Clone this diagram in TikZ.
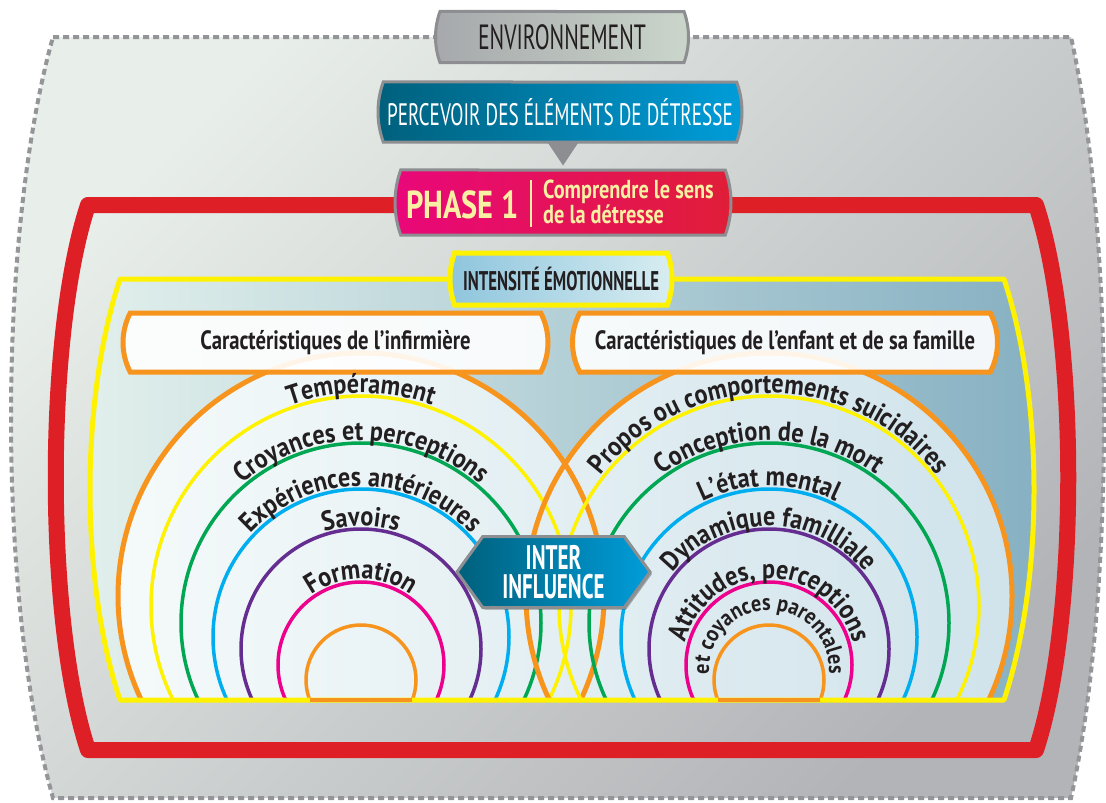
\documentclass[tikz,border=0pt]{standalone}
\usepackage{fontspec}
\usepackage{tikz}
\usetikzlibrary{
    shapes.misc,
    shapes.symbols,
    decorations.text,
    shadows,
    calc,
    positioning
}
\setmainfont{PT Sans}
\newfontfamily\capsfont{PT Sans}[FakeStretch=0.62]
\newfontfamily\labfont{PT Sans}[FakeStretch=0.78]
\newfontfamily\arcfont{PT Sans}[FakeStretch=0.88]
\newcommand\fs[1]{\fontsize{#1}{#1}\selectfont}

\definecolor{bgA}{HTML}{E8EEE9}
\definecolor{bgB}{HTML}{B3B4B8}
\definecolor{dashgray}{HTML}{939598}
\definecolor{framered}{HTML}{DF1F26}
\definecolor{ringorange}{HTML}{F7941D}
\definecolor{ringyellow}{HTML}{FFF200}
\definecolor{ringgreen}{HTML}{00A651}
\definecolor{ringblue}{HTML}{00AEEF}
\definecolor{ringpurple}{HTML}{662D91}
\definecolor{ringmagenta}{HTML}{EC008C}
\definecolor{inL}{HTML}{E2F0EC}
\definecolor{inR}{HTML}{86B0C2}
\definecolor{discL}{HTML}{F5FAFA}
\definecolor{discR}{HTML}{D0E3EB}
\definecolor{boxgray}{HTML}{8C8E91}
\definecolor{envL}{HTML}{A6A8AB}
\definecolor{envR}{HTML}{CBD6CB}
\definecolor{percL}{HTML}{00607C}
\definecolor{percR}{HTML}{009DDA}
\definecolor{phaseL}{HTML}{E9077A}
\definecolor{phaseR}{HTML}{E01E37}
\definecolor{intL}{HTML}{8EC5DD}
\definecolor{intR}{HTML}{D8EDF1}
\definecolor{paleyellow}{HTML}{F8F0A3}
\definecolor{textdark}{HTML}{231F20}

\tikzset{
    topbox/.style={rounded rectangle, rounded rectangle arc length=40, draw=boxgray, line width=3pt, inner sep=0pt},
    carac/.style={rounded rectangle, rounded rectangle arc length=55, draw=ringorange, line width=5pt,
        fill=white, fill opacity=0.9, text opacity=1, minimum width=425pt, minimum height=59pt,
        inner sep=0pt, text=textdark, font=\labfont\bfseries\fs{26.5}},
    ring/.style={line width=3.5pt},
    arclabel/.style={decorate, decoration={text along path, text align=center, text color=textdark,
        text={|\arcfont\bfseries\fs{27.5}|#1}}},
    arclabelsmall/.style={decorate, decoration={text along path, text align=center, text color=textdark,
        text={|\arcfont\bfseries\fs{23}|#1}}}
}

\begin{document}
\begin{tikzpicture}[x=1pt, y=-1pt]
\useasboundingbox (0,0) rectangle (1106,803);
% environnement
\path[draw=dashgray, line width=4pt, dash pattern=on 6pt off 4pt, top color=bgA, bottom color=bgB, shading angle=45]
    (53,37) -- (1071,37) .. controls (1115,237) and (1115,598) .. (1071,798)
    -- (53,798) .. controls (-3,598) and (-3,237) .. (53,37) -- cycle;
% cadre rouge
\draw[framered, line width=16pt, line join=round]
    (400,205) -- (88,205) .. controls (45,335) and (45,620) .. (88,750)
    -- (1036,750) .. controls (1079,620) and (1079,335) .. (1036,205) -- (725,205);
% cadre jaune
\shade[left color=inL, right color=inR]
    (120,279) -- (1004,279) .. controls (1044,400) and (1044,580) .. (1004,700)
    -- (120,700) .. controls (80,580) and (80,400) .. (120,279) -- cycle;
\begin{scope}
    \clip (100,270) rectangle (1050,700);
    \shade[left color=discL, right color=discR] (361,596) circle[radius=243] (769,596) circle[radius=243];
    \foreach \cx in {361,769}{
        \draw[ringorange, line width=5pt] (\cx,596) circle[radius=243];
        \foreach \cy/\r/\col in {606/210/ringyellow, 623/180/ringgreen, 637/148/ringblue,
                                 649/120/ringpurple, 665/83/ringmagenta, 680/55/ringorange}
            \draw[ring, draw=\col] (\cx,\cy) circle[radius=\r];
    }
\end{scope}
\draw[ringyellow, line width=5pt, line join=round]
    (120,279) -- (1004,279) .. controls (1044,400) and (1044,580) .. (1004,700)
    -- (120,700) .. controls (80,580) and (80,400) .. (120,279) -- cycle;
\foreach \cx in {361,769}
    \draw[ringorange, line width=4pt] (\cx-51,700) -- (\cx+51,700);

% boites du haut
\node[topbox, minimum width=253pt, minimum height=51pt, left color=envL, right color=envR,
    text=textdark, font=\capsfont\fs{35}] (env) at (562,37) {ENVIRONNEMENT};
\node[topbox, minimum width=364pt, minimum height=60pt, left color=percL, right color=percR,
    text=white, font=\capsfont\fs{31}] (perc) at (560,112) {PERCEVOIR DES ÉLÉMENTS DE DÉTRESSE};
\node[topbox, minimum width=336pt, minimum height=65pt, left color=phaseL, right color=phaseR] (phase) at (563,202.5) {};
\fill[boxgray] ($(perc.south)+(-13,-2)$) -- ($(perc.south)+(19,-2)$) -- ($(phase.north)+(0,-3)$) -- cycle;
\node[text=paleyellow, font=\labfont\bfseries\fs{39}] (phasenum) at (462.5,205) {PHASE 1};
\draw[paleyellow, line width=2pt] (531,180) -- (531,227);
\node[text=paleyellow, font=\labfont\bfseries\fontsize{26}{25}\selectfont, align=left, anchor=west, inner sep=0pt]
    (phasetxt) at (543,202) {Comprendre le sens\\de la détresse};
\node[rounded rectangle, rounded rectangle arc length=40, draw=ringyellow, line width=5pt,
    left color=intL, right color=intR, minimum width=222pt, minimum height=52pt, inner sep=0pt,
    text=textdark, font=\capsfont\bfseries\fs{27}] (intens) at (561,279) {INTENSITÉ ÉMOTIONNELLE};
\node[carac] (caracinf) at (335.5,342.5) {Caractéristiques de l’infirmière};
\node[carac] (caracfam) at (785,342.5) {Caractéristiques de l’enfant et de sa famille};

% arcs de gauche
\path[arclabel=Tempérament] (361,606) ++(-178:213) arc[start angle=-178, end angle=-2, radius=213];
\path[arclabel=Croyances et perceptions] (361,623) ++(-178:183) arc[start angle=-178, end angle=-2, radius=183];
\path[arclabel=Expériences antérieures] (361,637) ++(-178:151) arc[start angle=-178, end angle=-2, radius=151];
\path[arclabel=Savoirs] (361,649) ++(-178:123) arc[start angle=-178, end angle=-2, radius=123];
\path[arclabel=Formation] (361,665) ++(-178:86) arc[start angle=-178, end angle=-2, radius=86];
% arcs de droite
\path[arclabel=Propos ou comportements suicidaires] (769,606) ++(-182:213) arc[start angle=-182, end angle=2, radius=213];
\path[arclabel=Conception de la mort] (769,623) ++(-178:183) arc[start angle=-178, end angle=-2, radius=183];
\path[arclabel=L’état mental] (769,637) ++(-178:151) arc[start angle=-178, end angle=-2, radius=151];
\path[arclabel=Dynamique familliale] (769,649) ++(-178:123) arc[start angle=-178, end angle=-2, radius=123];
\path[arclabel={Attitudes, perceptions}] (769,665) ++(-190:87) arc[start angle=-190, end angle=10, radius=87];
\path[arclabelsmall=et coyances parentales] (769,670) ++(-200:60) arc[start angle=-200, end angle=20, radius=60];

% inter influence
\node[signal, signal to=east and west, signal pointer angle=108, minimum width=193pt, minimum height=71pt,
    inner sep=0pt, draw=boxgray, line width=3pt, left color=percL, right color=percR,
    drop shadow={shadow xshift=2pt, shadow yshift=-2pt, fill=black, opacity=0.3},
    text=white, align=center, font=\capsfont\bfseries\fontsize{34}{29.5}\selectfont] (inter) at (553.5,572) {INTER\\INFLUENCE};
\end{tikzpicture}
\end{document}
